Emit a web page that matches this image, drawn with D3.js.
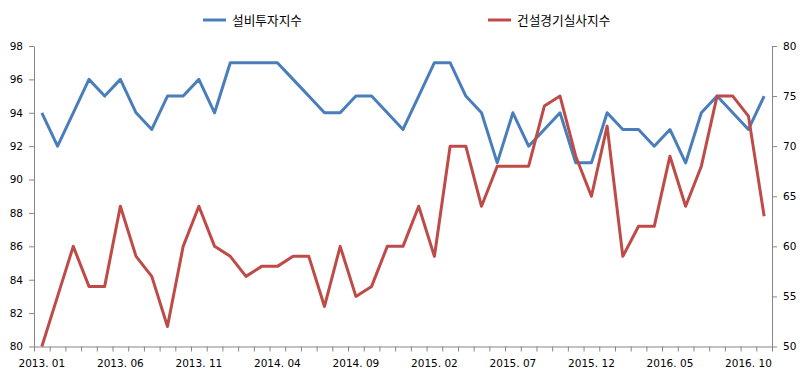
<!DOCTYPE html>
<html>
<head>
<meta charset="utf-8">
<script src="https://cdn.jsdelivr.net/npm/d3@7"></script>
<style>
  body { margin: 0; background: #fff; }
  svg { display: block; }
  .axis text { font-family: "DejaVu Sans", sans-serif; font-size: 10.5px; fill: #000; }
  .axis path, .axis line { stroke: #868686; }
</style>
</head>
<body>
<script>
const months = [];
for (let y = 2013; y <= 2016; y++) {
  for (let m = 1; m <= 12; m++) {
    if (y === 2016 && m > 11) break;
    months.push(y + '. ' + (m < 10 ? '0' + m : m));
  }
}
// 설비투자지수 (left axis)
const equipment = [94, 92, 94, 96, 95, 96, 94, 93, 95, 95, 96, 94,
                   97, 97, 97, 97, 96, 95, 94, 94, 95, 95, 94, 93,
                   95, 97, 97, 95, 94, 91, 94, 92, 93, 94, 91, 91,
                   94, 93, 93, 92, 93, 91, 94, 95, 94, 93, 95];
// 건설경기실사지수 (right axis)
const construction = [50, 55, 60, 56, 56, 64, 59, 57, 52, 60, 64, 60,
                      59, 57, 58, 58, 59, 59, 54, 60, 55, 56, 60, 60,
                      64, 59, 70, 70, 64, 68, 68, 68, 74, 75, 69, 65,
                      72, 59, 62, 62, 69, 64, 68, 75, 75, 73, 63];
const leftTicks = [80, 82, 84, 86, 88, 90, 92, 94, 96, 98];
const rightTicks = [50, 55, 60, 65, 70, 75, 80];
const seriesNames = ['설비투자지수', '건설경기실사지수'];
const colors = ['#4a7ebb', '#be4b48'];

const w = 807, h = 379;
const x0 = 34, x1 = 772, yTop = 46, yBot = 346.5;

const svg = d3.select('body').append('svg')
  .attr('width', w).attr('height', h);

const x = d3.scaleBand().domain(months).range([x0, x1]);
const xLin = d3.scaleLinear().domain([0, months.length]).range([x0, x1]);
const yL = d3.scaleLinear().domain([80, 98]).range([yBot, yTop]);
const yR = d3.scaleLinear().domain([50, 80]).range([yBot, yTop]);

// x axis ticks at category boundaries
svg.append('g').attr('class', 'axis')
  .attr('transform', 'translate(0,' + yBot + ')')
  .call(d3.axisBottom(xLin).tickValues(d3.range(months.length + 1))
    .tickFormat('').tickSize(5).tickSizeOuter(0));

// x labels every 5 months
svg.append('g').attr('class', 'axis')
  .attr('transform', 'translate(0,' + yBot + ')')
  .call(d3.axisBottom(x).tickValues(months.filter((d, i) => i % 5 === 0))
    .tickSize(0).tickPadding(13))
  .call(g => g.select('.domain').remove());

svg.append('g').attr('class', 'axis')
  .attr('transform', 'translate(' + x0 + ',0)')
  .call(d3.axisLeft(yL).tickValues(leftTicks).tickSize(5).tickSizeOuter(0).tickPadding(6));

svg.append('g').attr('class', 'axis')
  .attr('transform', 'translate(' + x1 + ',0)')
  .call(d3.axisRight(yR).tickValues(rightTicks).tickSize(5).tickSizeOuter(0).tickPadding(6));

const cx = (d, i) => x(months[i]) + x.bandwidth() / 2;

svg.append('path')
  .datum(equipment)
  .attr('fill', 'none')
  .attr('stroke', colors[0])
  .attr('stroke-width', 3)
  .attr('stroke-linejoin', 'round')
  .attr('d', d3.line().x(cx).y(d => yL(d)));

svg.append('path')
  .datum(construction)
  .attr('fill', 'none')
  .attr('stroke', colors[1])
  .attr('stroke-width', 3)
  .attr('stroke-linejoin', 'round')
  .attr('d', d3.line().x(cx).y(d => yR(d)));

// legend
const legendX = [203, 488];
const legend = svg.selectAll('.legend')
  .data(seriesNames)
  .enter().append('g')
  .attr('class', 'legend')
  .attr('transform', (d, i) => 'translate(' + legendX[i] + ',20)');

legend.append('line')
  .attr('x1', 0).attr('x2', 23)
  .attr('y1', 0).attr('y2', 0)
  .attr('stroke', (d, i) => colors[i])
  .attr('stroke-width', 3);

legend.append('text')
  .attr('x', 29)
  .attr('y', 4.5)
  .style('font-family', '"Noto Sans CJK KR", sans-serif')
  .style('font-size', '12.7px')
  .text(d => d);
</script>
</body>
</html>
